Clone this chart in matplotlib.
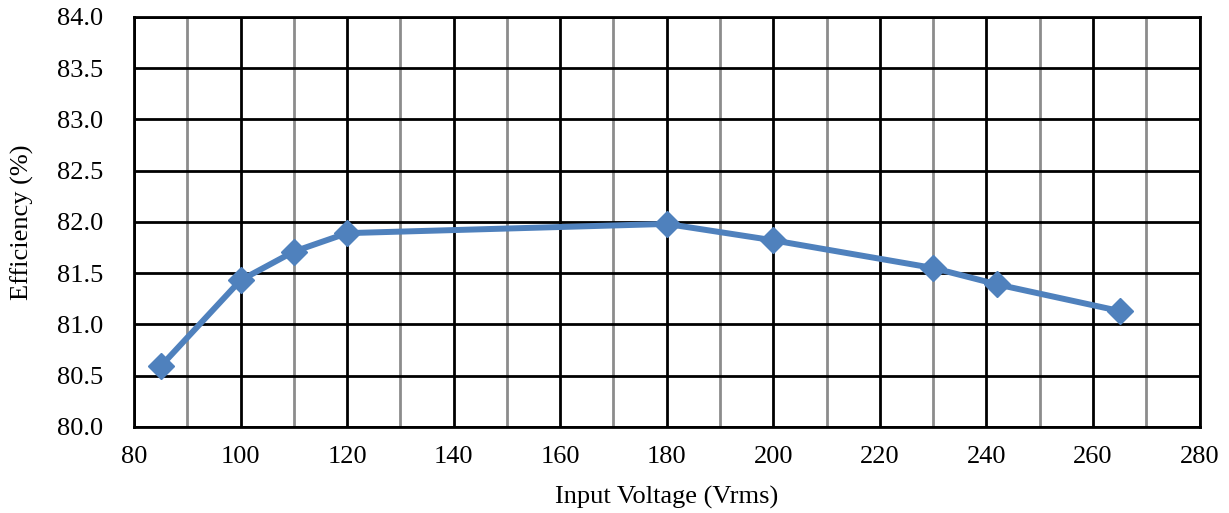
import matplotlib.pyplot as plt
import numpy as np

voltage = [85, 100, 110, 120, 180, 200, 230, 242, 265]
efficiency = [80.59, 81.43, 81.71, 81.89, 81.98, 81.82, 81.55, 81.39, 81.13]

plt.rcParams['font.family'] = ['Liberation Serif', 'DejaVu Serif']

fig = plt.figure(figsize=(12.29, 5.13), dpi=100)
ax = fig.add_axes([0.109, 0.168, 0.867, 0.799])

# grid: black major, grey minor on x
ax.set_xlim(80, 280)
ax.set_ylim(80, 84)
ax.set_xticks(np.arange(80, 281, 20))
ax.set_xticks(np.arange(90, 280, 20), minor=True)
ax.set_yticks(np.arange(80, 84.01, 0.5))
ax.yaxis.set_major_formatter(plt.FormatStrFormatter('%.1f'))
ax.grid(which='major', axis='both', color='black', linewidth=2.0)
ax.grid(which='minor', axis='x', color='#8c8c8c', linewidth=2.0)
ax.set_axisbelow(True)
ax.tick_params(which='both', length=0, labelsize=19)
ax.tick_params(axis='x', pad=14)
ax.tick_params(axis='y', pad=22)

for s in ax.spines.values():
    s.set_linewidth(2.0)

ax.plot(voltage, efficiency, color='#4F81BD', linewidth=4.3,
        marker='D', markersize=13, markeredgecolor='#4F81BD')

ax.set_xlabel('Input Voltage (Vrms)', fontsize=19, labelpad=13)
ax.set_ylabel('Efficiency (%)', fontsize=19, labelpad=17)

fig.savefig('out.png', dpi=100)
